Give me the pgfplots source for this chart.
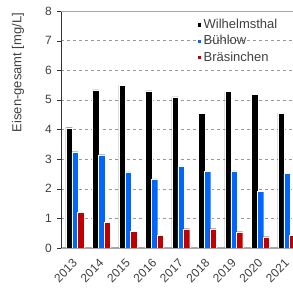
\documentclass[border=0pt]{standalone}
\usepackage{pgfplots}
\pgfplotsset{compat=1.18}
\usepackage{fontspec}
\setmainfont{Liberation Sans}
\definecolor{tk}{RGB}{64,64,64}
\definecolor{bblue}{RGB}{0,102,255}
\definecolor{bred}{RGB}{192,0,0}
\begin{document}
\begin{tikzpicture}
\begin{axis}[
  name=ax,
  scale only axis,
  width=232pt, height=237pt,
  xmin=2012.47, xmax=2021.23,
  ymin=0, ymax=8,
  ytick={0,1,...,8},
  xtick={2013,...,2021},
  xticklabels={2013,2014,2015,2016,2017,2018,2019,2020,2021},
  x tick label style={rotate=45, anchor=north east, font=\fontsize{12}{14}\selectfont, text=tk, inner sep=0pt, xshift=-6.4pt, yshift=-2.1pt},
  y tick label style={font=\fontsize{12}{14}\selectfont, text=tk, inner sep=1pt, xshift=-4pt},
  /pgf/number format/assume math mode=true,
  ylabel={Eisen-gesamt [mg/L]},
  ylabel style={font=\fontsize{13}{15}\selectfont, text=tk, at={(axis description cs:-0.185,0.74)}, anchor=center},
  axis x line*=bottom, axis y line*=left,
  x axis line style={draw=gray!70, line width=1.5pt, -},
  y axis line style={draw=black!80, line width=0.6pt, -},
  xtick style={draw=none},
  ytick style={draw=black!80},
  tick align=outside, major tick length=4pt,
  ymajorgrids, grid style={dashed, gray!80, line width=0.4pt},
  legend style={draw=none, fill=none, at={(rel axis cs:0.585,0.975)}, anchor=north west,
    font=\fontsize{13}{15}\selectfont, text=tk, row sep=1.5pt, inner sep=0pt},
  legend cell align=left,
  legend image code/.code={\fill[#1] (0pt,-2.2pt) rectangle (4.4pt,2.2pt);},
  clip=true,
]
\addplot[ybar, bar width=6.5pt, bar shift=-5.8pt, fill=black, draw=white, line width=0.3pt] coordinates {
(2013,4.06) (2014,5.34) (2015,5.5) (2016,5.3) (2017,5.1) (2018,4.55) (2019,5.28) (2020,5.18) (2021,4.55)};
\addlegendentry{Wilhelmsthal}
\addplot[ybar, bar width=6.5pt, bar shift=0pt, fill=bblue, draw=white, line width=0.3pt] coordinates {
(2013,3.25) (2014,3.15) (2015,2.57) (2016,2.33) (2017,2.75) (2018,2.58) (2019,2.6) (2020,1.92) (2021,2.52)};
\addlegendentry{Bühlow}
\addplot[ybar, bar width=6.5pt, bar shift=5.5pt, fill=bred, draw=white, line width=0.3pt] coordinates {
(2013,1.2) (2014,0.87) (2015,0.57) (2016,0.42) (2017,0.65) (2018,0.65) (2019,0.55) (2020,0.38) (2021,0.43)};
\addlegendentry{Bräsinchen}
\draw[gray!70, line width=1.3pt] (rel axis cs:0,1) -- (rel axis cs:1,1);
\end{axis}
\pgfresetboundingbox
\path ([xshift=-61pt,yshift=-42pt]ax.south west) rectangle ([yshift=11pt]ax.north east);
\end{tikzpicture}
\end{document}
